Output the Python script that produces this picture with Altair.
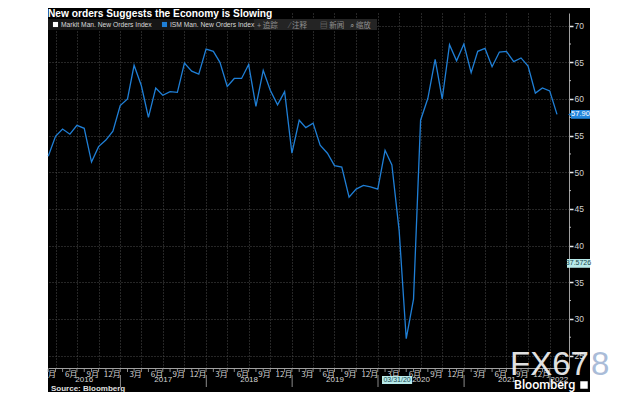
import calendar
import altair as alt
import pandas as pd

# ---------------- data ----------------
TITLE = "New orders Suggests the Economy is Slowing"
SERIES_NAMES = ["Markit Man. New Orders Index", "ISM Man. New Orders Index"]
SERIES_COLORS = ["#ffffff", "#1f7fd6"]
START_YEAR, START_MONTH = 2016, 2
ism_values = [
    52.2, 54.9, 55.9, 55.2, 56.4, 56.0, 51.4, 53.5, 54.4, 55.6, 59.1,
    60.0, 64.6, 61.8, 57.5, 61.5, 60.5, 61.0, 60.9, 64.9, 63.8, 63.4, 66.8,
    66.5, 65.0, 61.7, 62.8, 62.8, 64.7, 59.0, 63.9, 61.2, 59.2, 61.0, 52.6,
    57.1, 56.1, 56.7, 53.7, 52.6, 50.9, 50.7, 46.6, 47.7, 48.2, 48.0, 47.7,
    53.0, 51.0, 42.0, 27.3, 32.7, 57.1, 60.1, 65.4, 60.0, 67.4, 65.2, 67.5,
    63.6, 66.5, 66.9, 64.4, 66.4, 66.5, 65.1, 65.6, 64.5, 60.8, 61.5, 61.1,
    57.9,
]
y_ticks = [25, 30, 35, 40, 45, 50, 55, 60, 65, 70]
y_minor = [27.5, 32.5, 37.5, 42.5, 47.5, 52.5, 57.5, 62.5, 67.5]
quarter_months = [3, 6, 9, 12]
tick_years = [2016, 2017, 2018, 2019, 2020, 2021]
label_years = [2016, 2017, 2018, 2019, 2020, 2021, 2022]
last_value_label = "57.90"
cross_value = 37.5726
cross_value_label = "37.5726"
cross_date_label = "03/31/20"
cross_box = ["2020-01-18", "2020-05-25"]
cross_text_date = "2020-03-22"
source_text = "Source:  Bloomberg"
toolbar_items = ["+ 追踪", "⁄ 注释", "▤ 新闻", "⌕ 缩放"]
X_START = (2016, 2, 28)
X_END = (2022, 3, 23)


def month_end(y, m):
    return f"{y:04d}-{m:02d}-{calendar.monthrange(y, m)[1]:02d}"


dates = []
yy, mm = START_YEAR, START_MONTH
for _ in ism_values:
    dates.append(month_end(yy, mm))
    mm += 1
    if mm > 12:
        mm, yy = 1, yy + 1

line_df = pd.DataFrame({"date": dates, "value": ism_values})

quarter_ticks = [
    alt.DateTime(year=y, month=m, date=calendar.monthrange(y, m)[1], utc=True)
    for y in tick_years for m in quarter_months
]

d0 = pd.Timestamp(*X_START)
d1 = pd.Timestamp(*X_END)
year_mid = []
for y in label_years:
    s = max(pd.Timestamp(y, 1, 1), d0)
    e = min(pd.Timestamp(y + 1, 1, 1), d1)
    year_mid.append((s + (e - s) / 2).strftime("%Y-%m-%d"))
years_df = pd.DataFrame({"date": year_mid, "label": [str(y) for y in label_years]})
sep_df = pd.DataFrame({"date": [f"{y}-01-01" for y in label_years[1:]]})

# ---------------- scales ----------------
X_SCALE = alt.Scale(
    type="utc",
    domain=[alt.DateTime(year=X_START[0], month=X_START[1], date=X_START[2], utc=True),
            alt.DateTime(year=X_END[0], month=X_END[1], date=X_END[2], utc=True)],
)
Y_SCALE = alt.Scale(domain=[23.3, 71.73], nice=False, zero=False)

X_AXIS = alt.Axis(
    values=quarter_ticks, labelExpr="utcmonth(datum.value) + 1 + '月'",
    labelAlign="right", labelBaseline="top", labelPadding=2, labelFontSize=8,
    labelFont="Noto Sans CJK SC", labelColor="#d4d4d4", labelFlush=False,
    labelOverlap=False, tickSize=0, domainColor="#a0a0a0", grid=True,
    gridColor="#4d4d4d", gridDash=[1, 2], title=None,
)
Y_AXIS = alt.Axis(
    orient="right", values=y_ticks, labelFontSize=8.5, labelFont="Liberation Sans",
    labelColor="#d0d0d0", labelPadding=1, tickSize=4, tickWidth=1.5,
    tickColor="#e8e8e8", domainColor="#a0a0a0", grid=True, gridColor="#4d4d4d",
    gridDash=[1, 2], title=None,
)


def X(field):
    return alt.X(f"{field}:T", scale=X_SCALE, axis=X_AXIS, title=None)


def Y(field):
    return alt.Y(f"{field}:Q", scale=Y_SCALE, axis=Y_AXIS, title=None)


one = pd.DataFrame({"k": [0]})


def box(x, x2, y, y2, color):
    return alt.Chart(one).mark_rect(color=color).encode(
        x=alt.value(x), x2=alt.value(x2), y=alt.value(y), y2=alt.value(y2))


def txt(s, x, y, size=8, color="#dddddd", weight="normal", align="left",
        font="Liberation Sans", baseline="alphabetic", opacity=1.0):
    return alt.Chart(one).mark_text(
        text=s, align=align, baseline=baseline, fontSize=size, font=font,
        fontWeight=weight, color=color, opacity=opacity,
    ).encode(x=alt.value(x), y=alt.value(y))


layers = []
# white page outside the dark panel
layers.append(box(-40, 0, -5, 379, "#ffffff"))
layers.append(box(542, 584, -5, 379, "#ffffff"))

# main series
layers.append(
    alt.Chart(line_df).mark_line(color=SERIES_COLORS[1], strokeWidth=1.3).encode(
        x=X("date"), y=Y("value"))
)

# minor ticks on the right axis
layers.append(
    alt.Chart(pd.DataFrame({"v": y_minor})).mark_rule(color="#bbbbbb").encode(
        y=Y("v"), x=alt.value(521), x2=alt.value(523))
)
# monthly ticks on the x axis
layers.append(
    alt.Chart(line_df).mark_rule(color="#8a8a8a").encode(
        x=X("date"), y=alt.value(356), y2=alt.value(359))
)
# year separators and labels
layers.append(
    alt.Chart(sep_df).mark_rule(color="#8a8a8a").encode(
        x=X("date"), y=alt.value(362), y2=alt.value(374))
)
layers.append(
    alt.Chart(years_df).mark_text(fontSize=8, font="Liberation Sans", color="#d4d4d4",
                                  baseline="middle").encode(
        x=X("date"), y=alt.value(367), text="label:N")
)

# legend bar + toolbar
layers.append(box(0, 329, 6, 17, "#161616"))
layers.append(box(206, 329, 6, 17, "#242424"))
for i, (name, col) in enumerate(zip(SERIES_NAMES, SERIES_COLORS)):
    x0 = [5, 114][i]
    layers.append(
        alt.Chart(one).mark_square(size=26, color=col, opacity=1).encode(
            x=alt.value(x0 + 2.5), y=alt.value(11.5))
    )
    layers.append(txt(name, x0 + 8, 14.3, size=6.7, color="#d8d8d8"))
for i, item in enumerate(toolbar_items):
    layers.append(txt(item, [209, 241, 272, 302][i], 14.5, size=7.5,
                      color="#8f8f8f", font="Noto Sans CJK SC"))

# title
layers.append(txt(TITLE, 0, 4, size=10.2, color="#ffffff", weight="bold"))

# last value box
lv = pd.DataFrame({"lo": [ism_values[-1] - 0.6], "hi": [ism_values[-1] + 0.6],
                   "v": [ism_values[-1]], "t": [last_value_label]})
layers.append(alt.Chart(lv).mark_rect(color="#2486dc").encode(
    x=alt.value(523), x2=alt.value(542), y=Y("lo"), y2=alt.Y2("hi")))
layers.append(alt.Chart(lv).mark_point(shape="triangle-left", filled=True, size=18,
                                       color="#2486dc", opacity=1).encode(
    x=alt.value(522), y=Y("v")))
layers.append(alt.Chart(lv).mark_text(fontSize=7.5, font="Liberation Sans", color="#ffffff",
                                      baseline="middle", align="center").encode(
    x=alt.value(532.5), y=Y("v"), text="t:N"))

# crosshair value box
cv = pd.DataFrame({"lo": [cross_value - 0.6], "hi": [cross_value + 0.6],
                   "v": [cross_value], "t": [cross_value_label]})
layers.append(alt.Chart(cv).mark_rect(color="#b8eaea").encode(
    x=alt.value(519), x2=alt.value(542), y=Y("lo"), y2=alt.Y2("hi")))
layers.append(alt.Chart(cv).mark_text(fontSize=7, font="Liberation Sans", color="#16484f",
                                      baseline="middle", align="center").encode(
    x=alt.value(530.5), y=Y("v"), text="t:N"))

# crosshair date box
cd = pd.DataFrame({"s": [cross_box[0]], "e": [cross_box[1]], "m": [cross_text_date],
                   "t": [cross_date_label]})
layers.append(alt.Chart(cd).mark_rect(color="#b8eaea").encode(
    x=X("s"), x2=alt.X2("e"), y=alt.value(363), y2=alt.value(371)))
layers.append(alt.Chart(cd).mark_text(fontSize=7, font="Liberation Sans", color="#16484f",
                                      baseline="middle", align="center").encode(
    x=X("m"), y=alt.value(367), text="t:N"))

# source and branding
layers.append(txt(source_text, 3, 377.5, size=8, color="#e0e0e0", weight="bold"))
layers.append(txt("FX67", 462, 362, size=33, color="#f4f4f4", opacity=0.92))
layers.append(txt("8", 543, 362, size=33, color="#aabcd8"))
layers.append(txt("Bloomberg", 466, 376, size=12.5, color="#ffffff", font="Roboto", weight=500))
layers.append(alt.Chart(one).mark_square(size=56, color="#ffffff", opacity=1).encode(
    x=alt.value(536), y=alt.value(372)))

chart = alt.layer(*layers).properties(
    width=521, height=355, background="black",
    autosize=alt.AutoSizeParams(type="none"),
    padding={"left": 40, "top": 5, "right": 63, "bottom": 24},
).configure_view(stroke=None)

chart.save("out.html", embed_options={"renderer": "svg", "actions": False})
